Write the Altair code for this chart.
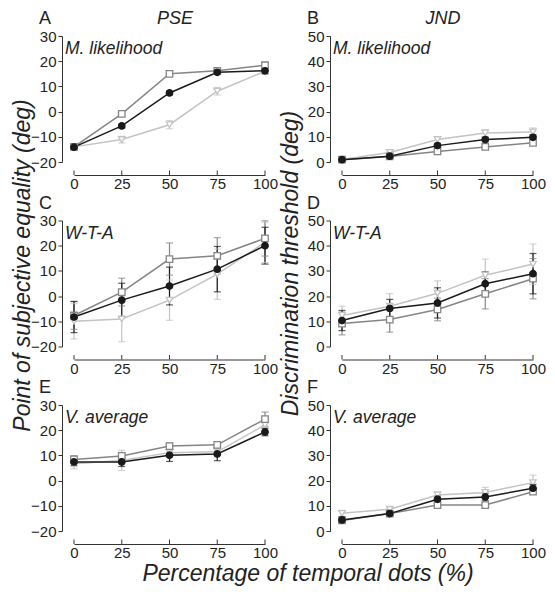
import altair as alt
import pandas as pd

FONT = "Liberation Sans"

x_vals = [0, 25, 50, 75, 100]
x_ticks = [0, 25, 50, 75, 100]
pse_ticks = [-20, -10, 0, 10, 20, 30]
jnd_ticks = [0, 10, 20, 30, 40, 50]
series_names = ["tri", "sq", "circ"]
series_stroke = ["#c3c3c3", "#858585", "#1a1a1a"]
series_fill = ["white", "white", "#1a1a1a"]
series_shape = ["triangle-down", "square", "circle"]

# Panel A: PSE, M. likelihood
a_circ = [-14.1, -5.7, 7.4, 15.6, 16.2]
a_circ_err = [0.7, 0.8, 0.8, 0.8, 1.2]
a_sq = [-14.0, -0.9, 15.0, 16.2, 18.4]
a_sq_err = [0.6, 0.7, 0.7, 0.7, 0.9]
a_tri = [-14.0, -11.1, -5.2, 8.1, 16.0]
a_tri_err = [0.6, 1.3, 1.6, 1.5, 1.0]

# Panel B: JND, M. likelihood
b_circ = [0.9, 2.3, 6.5, 8.9, 9.8]
b_circ_err = [0.5, 0.5, 0.8, 0.9, 1.0]
b_sq = [0.9, 2.2, 4.2, 6.0, 7.6]
b_sq_err = [0.5, 0.5, 0.7, 0.8, 0.9]
b_tri = [1.0, 3.8, 8.9, 11.5, 11.9]
b_tri_err = [0.5, 0.8, 1.2, 1.3, 1.6]

# Panel C: PSE, W-T-A
c_circ = [-8.3, -1.6, 4.0, 10.7, 20.0]
c_circ_err = [6.2, 6.7, 7.5, 9.0, 7.3]
c_sq = [-7.7, 1.6, 14.7, 16.0, 22.9]
c_sq_err = [5.5, 5.5, 6.4, 7.2, 7.0]
c_tri = [-10.0, -9.1, -1.6, 8.7, 21.3]
c_tri_err = [7.0, 9.0, 8.0, 10.0, 8.0]

# Panel D: JND, W-T-A
d_circ = [10.3, 15.1, 17.3, 24.9, 28.9]
d_circ_err = [4.0, 3.6, 6.0, 4.7, 8.0]
d_sq = [9.1, 10.7, 14.7, 20.9, 26.9]
d_sq_err = [4.5, 5.0, 4.5, 6.0, 8.0]
d_tri = [12.3, 16.0, 21.1, 28.3, 32.7]
d_tri_err = [3.7, 5.0, 5.0, 6.4, 8.0]

# Panel E: PSE, V. average
e_circ = [7.4, 7.4, 10.1, 10.6, 19.3]
e_circ_err = [1.5, 1.8, 2.5, 2.7, 1.5]
e_sq = [8.4, 9.8, 13.7, 14.2, 24.4]
e_sq_err = [1.5, 1.2, 1.3, 1.2, 2.8]
e_tri = [6.7, 8.0, 11.1, 11.4, 22.1]
e_tri_err = [2.0, 4.0, 1.5, 1.5, 1.5]

# Panel F: JND, V. average
f_circ = [4.4, 6.9, 12.6, 13.5, 17.0]
f_circ_err = [1.2, 0.8, 1.3, 1.5, 1.5]
f_sq = [4.2, 6.9, 10.3, 10.3, 15.6]
f_sq_err = [1.0, 0.8, 1.0, 0.8, 1.0]
f_tri = [7.0, 8.6, 14.3, 15.3, 19.2]
f_tri_err = [1.2, 1.0, 1.3, 2.0, 3.0]

W, H = 191, 126
AX = "#333333"


def text_layer(txt, x, y, size, italic=False, align="left", angle=0, baseline="alphabetic"):
    return alt.Chart(pd.DataFrame({"t": [txt]})).mark_text(
        align=align, baseline=baseline, font=FONT, fontSize=size,
        fontStyle="italic" if italic else "normal", color="#222222", angle=angle,
    ).encode(x=alt.value(x), y=alt.value(y), text="t:N")


def panel(tri, tri_e, sq, sq_e, circ, circ_e, ydom, yticks, label, letter,
          col_title=None, ytitle=None, ytitle_pos=None, xtitle=False):
    rows = []
    for s, vals, errs in (("tri", tri, tri_e), ("sq", sq, sq_e), ("circ", circ, circ_e)):
        for xv, m, e in zip(x_vals, vals, errs):
            rows.append(dict(x=xv, y=m, lo=m - e, hi=m + e, s=s))
    df = pd.DataFrame(rows)
    xs = alt.Scale(domain=[0, 100], nice=False, zero=False)
    ys = alt.Scale(domain=ydom, nice=False, zero=False)
    xaxis = alt.Axis(values=x_ticks, offset=13, ticks=False, domain=True, domainWidth=1,
                     title=None, labelPadding=1.5, domainColor=AX,
                     labelFlush=False, labelOverlap=False)
    yaxis = alt.Axis(values=yticks, offset=12, tickSize=4, domain=True, domainWidth=1,
                     title=None, labelPadding=2, domainColor=AX,
                     tickColor=AX, labelOverlap=False, labelFlush=False)
    x = alt.X("x:Q", scale=xs, axis=xaxis)
    y = alt.Y("y:Q", scale=ys, axis=yaxis)
    ylo = alt.Y("lo:Q", scale=ys, axis=yaxis)
    yhi = alt.Y("hi:Q", scale=ys, axis=yaxis)
    col = alt.Color("s:N", scale=alt.Scale(domain=series_names, range=series_stroke), legend=None)
    base = alt.Chart(df)
    err = base.mark_rule(strokeWidth=1.2).encode(x=x, y=ylo, y2="hi:Q", color=col)
    cap_lo = base.mark_tick(orient="horizontal", size=7, thickness=1.2).encode(x=x, y=ylo, color=col)
    cap_hi = base.mark_tick(orient="horizontal", size=7, thickness=1.2).encode(x=x, y=yhi, color=col)
    line = base.mark_line(strokeWidth=1.5).encode(x=x, y=y, color=col)
    pts = base.mark_point(filled=True, opacity=1, strokeWidth=1.3, size=42).encode(
        x=x, y=y,
        shape=alt.Shape("s:N", scale=alt.Scale(domain=series_names, range=series_shape), legend=None),
        fill=alt.Fill("s:N", scale=alt.Scale(domain=series_names, range=series_fill), legend=None),
        stroke=alt.Stroke("s:N", scale=alt.Scale(domain=series_names, range=series_stroke), legend=None),
    )
    ticks = alt.Chart(pd.DataFrame({"x": x_ticks})).mark_rule(color=AX, strokeWidth=1).encode(
        x=x, y=alt.value(H + 13), y2=alt.value(H + 8.5))
    layers = [err, cap_lo, cap_hi, line, pts, ticks,
              text_layer(label, -9, 18, 17.5, italic=True),
              text_layer(letter, -35, -26, 18, baseline="top")]
    if col_title:
        layers.append(text_layer(col_title, 101, -26, 18, italic=True, align="center", baseline="top"))
    if ytitle:
        layers.append(text_layer(ytitle, ytitle_pos[0], ytitle_pos[1], 23, italic=True,
                                 align="center", angle=270))
    if xtitle:
        layers.append(text_layer("Percentage of temporal dots (%)", 234, 175.5, 23,
                                 italic=True, align="center"))
    return alt.layer(*layers).properties(width=W, height=H)


pA = panel(a_tri, a_tri_err, a_sq, a_sq_err, a_circ, a_circ_err, [-20, 30], pse_ticks,
           "M. likelihood", "A", col_title="PSE")
pB = panel(b_tri, b_tri_err, b_sq, b_sq_err, b_circ, b_circ_err, [0, 50], jnd_ticks,
           "M. likelihood", "B", col_title="JND")
pC = panel(c_tri, c_tri_err, c_sq, c_sq_err, c_circ, c_circ_err, [-20, 30], pse_ticks,
           "W-T-A", "C", ytitle="Point of subjective equality (deg)", ytitle_pos=(-44, 45))
pD = panel(d_tri, d_tri_err, d_sq, d_sq_err, d_circ, d_circ_err, [0, 50], jnd_ticks,
           "W-T-A", "D", ytitle="Discrimination threshold (deg)", ytitle_pos=(-44, 43))
pE = panel(e_tri, e_tri_err, e_sq, e_sq_err, e_circ, e_circ_err, [-20, 30], pse_ticks,
           "V. average", "E", xtitle=True)
pF = panel(f_tri, f_tri_err, f_sq, f_sq_err, f_circ, f_circ_err, [0, 50], jnd_ticks,
           "V. average", "F")

chart = alt.concat(pA, pB, pC, pD, pE, pF, columns=2,
                   spacing={"row": 58.5, "column": 77}, bounds="flush").properties(
    padding={"left": 3, "top": 2, "right": 0, "bottom": 0}
).configure_view(stroke=None).configure_axis(
    labelFont=FONT, labelFontSize=15, labelColor="#222222", grid=False
)

chart.save("out.html", embed_options={"renderer": "svg", "actions": False})
